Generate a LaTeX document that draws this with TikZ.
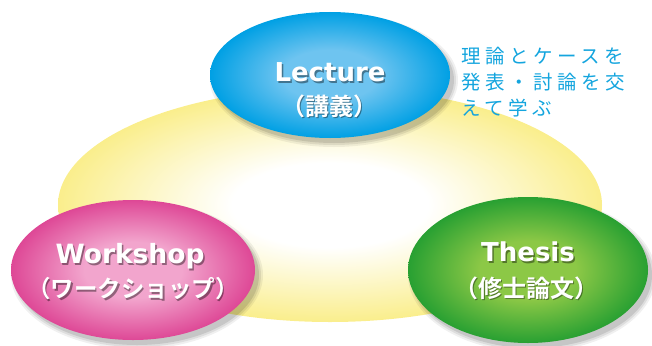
\documentclass[tikz,border=0pt]{standalone}
\usepackage{fontspec}
\newfontfamily\jp{Noto Sans CJK JP}[BoldFont={* Bold}]
\newfontfamily\lat{DejaVu Sans}
\usetikzlibrary{shapes.geometric}
\definecolor{blueE}{RGB}{0,160,228}
\definecolor{blueC}{RGB}{110,196,240}
\definecolor{pinkE}{RGB}{222,72,150}
\definecolor{pinkC}{RGB}{242,165,205}
\definecolor{greenE}{RGB}{40,160,50}
\definecolor{greenC}{RGB}{140,200,70}
\definecolor{yelE}{RGB}{250,238,140}
\definecolor{cyantext}{RGB}{20,165,222}
\pgfdeclareradialshading{shblue}{\pgfpoint{0bp}{0bp}}{color(0bp)=(blueC); color(10bp)=(blueC); color(25bp)=(blueE); color(50bp)=(blueE)}
\pgfdeclareradialshading{shpink}{\pgfpoint{0bp}{0bp}}{color(0bp)=(pinkC); color(10bp)=(pinkC); color(25bp)=(pinkE); color(50bp)=(pinkE)}
\pgfdeclareradialshading{shgreen}{\pgfpoint{0bp}{0bp}}{color(0bp)=(greenC); color(10bp)=(greenC); color(25bp)=(greenE); color(50bp)=(greenE)}
\pgfdeclareradialshading{shyel}{\pgfpoint{0bp}{0bp}}{color(0bp)=(white); color(9bp)=(white); color(25bp)=(yelE); color(50bp)=(yelE)}
\tikzset{
  lbl/.style={text=white, inner sep=0pt},
  lblsh/.style={lbl, text=black, opacity=0.4},
  latf/.style={font=\lat\bfseries\fontsize{26}{30}\selectfont},
  jpf/.style={font=\jp\bfseries\fontsize{24}{30}\selectfont},
  side/.style={font=\jp\fontsize{19.5}{22}\selectfont\addfontfeature{LetterSpace=23}, text=cyantext, anchor=west, inner sep=0pt},
}
\newcommand{\shlabel}[5]{%
  \node[lblsh,#5] at (#2+1.6,#3+1.8) {#4};
  \node[lbl,#5] (#1) at (#2,#3) {#4};}
\begin{document}
\begin{tikzpicture}[x=1pt,y=-1pt]
\useasboundingbox (0,0) rectangle (652,345);
% big yellow ellipse
\shade[shading=shyel] (330,205) ellipse [x radius=272, y radius=117];
% shadows
\foreach \cx/\cy/\rx/\ry in {334/80/120/63, 137/275/122/70, 532/275/120/73}{
  \fill[black,opacity=0.06] (\cx,\cy) ellipse [x radius=\rx+4, y radius=\ry+4];
  \fill[black,opacity=0.08] (\cx,\cy) ellipse [x radius=\rx+2, y radius=\ry+2];
  \fill[black,opacity=0.10] (\cx,\cy) ellipse [x radius=\rx, y radius=\ry];
}
% three ellipses
\shade[shading=shblue] (330,75) ellipse [x radius=120, y radius=63];
\shade[shading=shpink] (133,270) ellipse [x radius=122, y radius=70];
\shade[shading=shgreen] (528,270) ellipse [x radius=120, y radius=73];
% labels
\shlabel{lec1}{330}{72}{Lecture}{latf}
\shlabel{lec2}{329}{106}{（講義）}{jpf}
\shlabel{ws1}{130}{256}{Workshop}{latf, font=\lat\bfseries\fontsize{26.5}{30}\selectfont}
\shlabel{ws2}{133}{289}{（ワークショップ）}{jpf, font=\jp\bfseries\fontsize{23.5}{30}\selectfont}
\shlabel{th1}{528}{252}{Thesis}{latf}
\shlabel{th2}{526}{288}{（修士論文）}{jpf}
% side text
\node[side] (s1) at (461,56) {理論とケースを};
\node[side] (s2) at (461,82) {発表・討論を交};
\node[side] (s3) at (461,108) {えて学ぶ};
\end{tikzpicture}
\end{document}
